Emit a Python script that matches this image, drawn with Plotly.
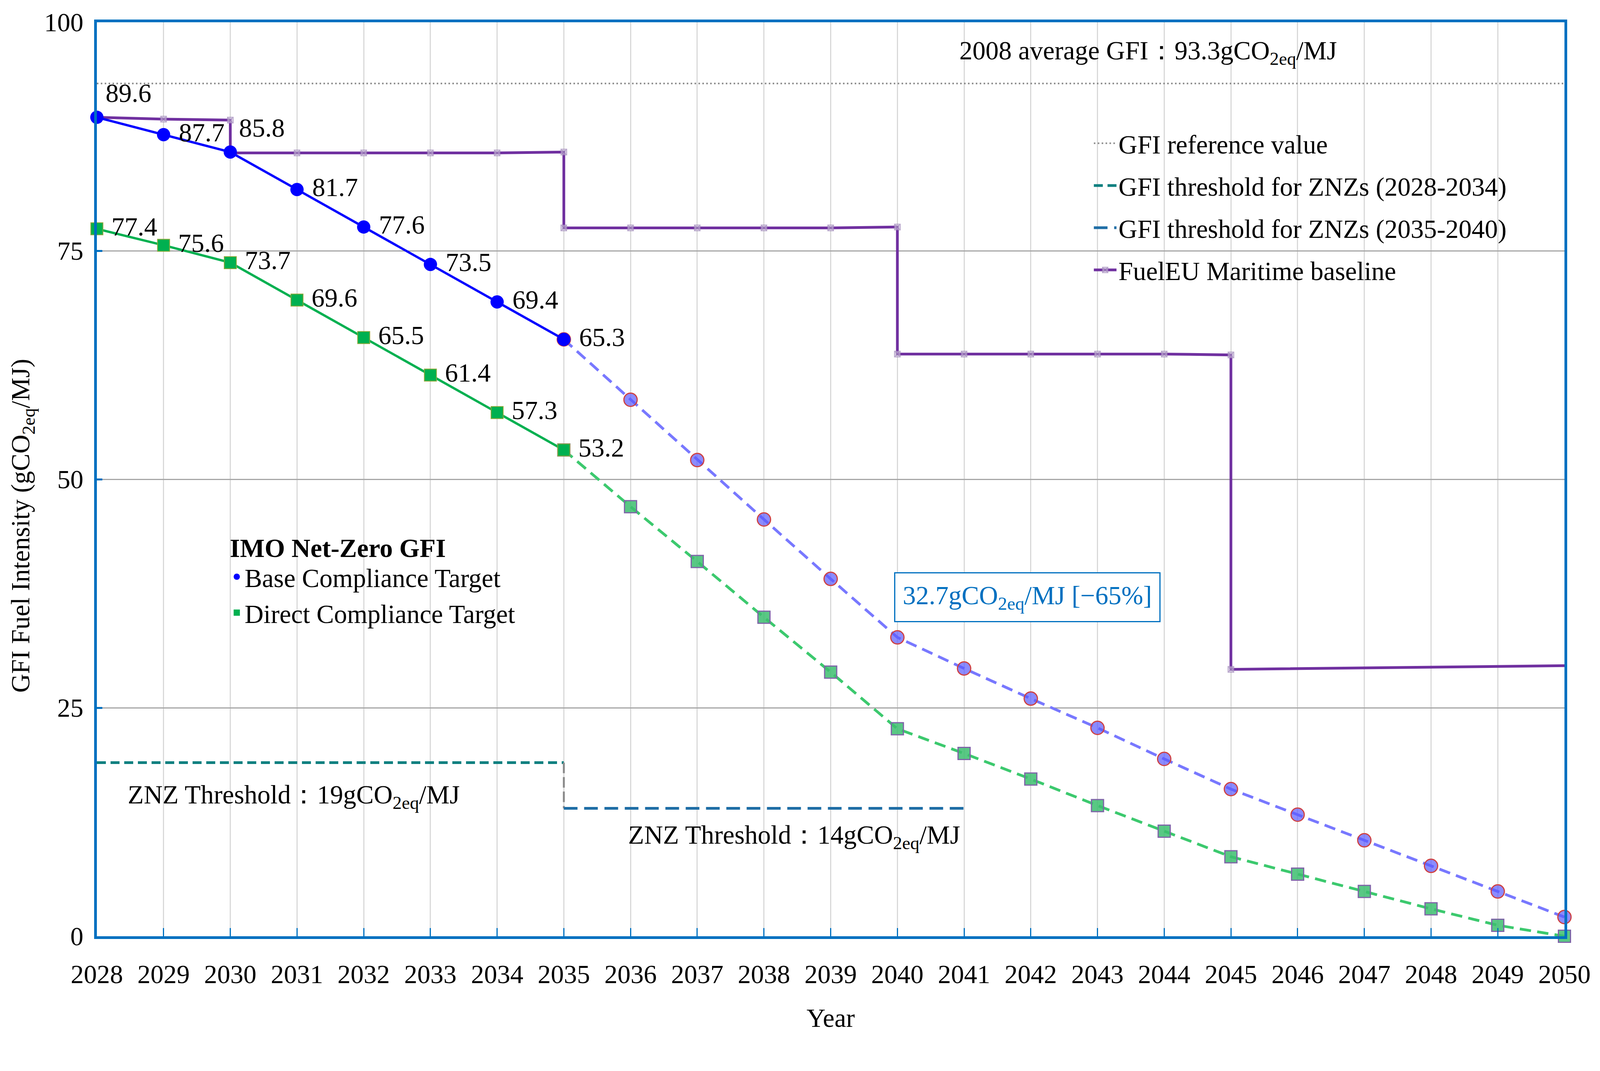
import plotly.graph_objects as go

# ---- data ----
years = list(range(2028, 2051))

base_target = [89.6, 87.7, 85.8, 81.7, 77.6, 73.5, 69.4, 65.3,
               58.7, 52.1, 45.6, 39.1, 32.7, 29.3, 26.0, 22.8, 19.4,
               16.1, 13.3, 10.5, 7.7, 4.9, 2.1]
direct_target = [77.4, 75.6, 73.7, 69.6, 65.5, 61.4, 57.3, 53.2,
                 47.0, 41.0, 34.9, 28.9, 22.7, 20.0, 17.2, 14.3, 11.5,
                 8.7, 6.8, 4.9, 3.0, 1.2, 0.0]

fueleu_years = [2028, 2029, 2030, 2030, 2031, 2032, 2033, 2034, 2035, 2035,
                2036, 2037, 2038, 2039, 2040, 2040, 2041, 2042, 2043, 2044,
                2045, 2045, 2050]
fueleu_values = [89.6, 89.4, 89.3, 85.7, 85.7, 85.7, 85.7, 85.7, 85.8, 77.5,
                 77.5, 77.5, 77.5, 77.5, 77.6, 63.7, 63.7, 63.7, 63.7, 63.7,
                 63.6, 29.2, 29.6]

ref_gfi_2008 = 93.3
znz_years_1 = [2028, 2035]
znz_value_1 = 19
znz_years_2 = [2035, 2041]
znz_value_2 = 14

last_fixed_year = 2035  # solid up to here, dashed projection after

FONT = "Liberation Serif"
FS = 67
BLUE_AX = "#0070C0"

split = years.index(last_fixed_year)

fig = go.Figure()

# reference 2008 level
fig.add_trace(go.Scatter(
    x=[years[0], years[-1]], y=[ref_gfi_2008] * 2, mode="lines",
    line=dict(color="#8c8c8c", width=4, dash="4px,6px"),
    name="GFI reference value", legendgroup="a", cliponaxis=False,
))

# ZNZ thresholds
fig.add_trace(go.Scatter(
    x=znz_years_1, y=[znz_value_1] * 2, mode="lines",
    line=dict(color="#0E8080", width=7, dash="23px,12px"),
    name="GFI threshold for ZNZs (2028-2034)", legendgroup="b",
))
fig.add_trace(go.Scatter(
    x=[znz_years_1[-1], znz_years_2[0]], y=[znz_value_1, znz_value_2],
    mode="lines", line=dict(color="#8c8c8c", width=5, dash="27px,10px"),
    showlegend=False, hoverinfo="skip",
))
fig.add_trace(go.Scatter(
    x=znz_years_2, y=[znz_value_2] * 2, mode="lines",
    line=dict(color="#1F6EA6", width=7, dash="35px,17px"),
    name="GFI threshold for ZNZs (2035-2040)", legendgroup="c",
))

# FuelEU Maritime baseline (step line)
fe_sizes = [15] * (len(fueleu_years) - 1) + [0]
fig.add_trace(go.Scatter(
    x=fueleu_years, y=fueleu_values, mode="lines+markers",
    line=dict(color="#7030A0", width=7),
    marker=dict(symbol="square-x", size=fe_sizes, color="#C9BBD9",
                line=dict(color="#9E86B8", width=2)),
    name="FuelEU Maritime baseline", legendgroup="d", cliponaxis=False,
))

# projected (dashed) parts
fig.add_trace(go.Scatter(
    x=years[split:], y=direct_target[split:], mode="lines+markers",
    line=dict(color="#3CC96E", width=7, dash="29px,16px"),
    marker=dict(symbol="square", size=31, color="rgba(60,190,110,0.85)",
                line=dict(color="#7F63A8", width=3)),
    showlegend=False, cliponaxis=False,
))
fig.add_trace(go.Scatter(
    x=years[split:], y=base_target[split:], mode="lines+markers",
    line=dict(color="#7878FF", width=7, dash="29px,16px"),
    marker=dict(symbol="circle", size=34, color="rgba(90,90,255,0.7)",
                line=dict(color="#D04040", width=3)),
    showlegend=False, cliponaxis=False,
))

# fixed (solid) parts with data labels
label_pos_base = ["top right", "middle right", "top right"] + ["middle right"] * (split - 2)
base_labels = [("" if p.startswith("top") else " ") + f"{v:.1f}"
               for p, v in zip(label_pos_base, base_target[:split + 1])]

fig.add_trace(go.Scatter(
    x=years[:split + 1], y=direct_target[:split + 1], mode="lines+markers+text",
    line=dict(color="#00B050", width=6),
    marker=dict(symbol="square", size=31, color="#00B050",
                line=dict(color="#8FA838", width=2)),
    text=[f" {v:.1f}" for v in direct_target[:split + 1]],
    textposition="middle right",
    textfont=dict(family=FONT, size=FS, color="black"),
    showlegend=False, cliponaxis=False,
))
fig.add_trace(go.Scatter(
    x=years[:split + 1], y=base_target[:split + 1], mode="lines+markers+text",
    line=dict(color="#0000FF", width=6),
    marker=dict(symbol="circle", size=34, color="#0000FF"),
    text=base_labels,
    textposition=label_pos_base,
    textfont=dict(family=FONT, size=FS, color="black"),
    showlegend=False, cliponaxis=False,
))

# IMO legend entries (markers only)
fig.add_trace(go.Scatter(
    x=[None], y=[None], mode="markers", legend="legend2",
    marker=dict(symbol="circle", size=16, color="#0000FF"),
    name="Base Compliance Target", legendgroup="e",
))
fig.add_trace(go.Scatter(
    x=[None], y=[None], mode="markers", legend="legend2",
    marker=dict(symbol="square", size=16, color="#00B050"),
    name="Direct Compliance Target", legendgroup="f",
))

# text annotations
fig.add_annotation(
    x=2043.76, y=96.7, xref="x", yref="y", showarrow=False,
    text="2008 average GFI：93.3gCO<sub>2eq</sub>/MJ",
    font=dict(family=FONT, size=FS, color="black"),
)
fig.add_annotation(
    x=2030.95, y=15.3, xref="x", yref="y", showarrow=False,
    text="ZNZ Threshold：19gCO<sub>2eq</sub>/MJ",
    font=dict(family=FONT, size=FS, color="black"),
)
fig.add_annotation(
    x=2038.45, y=10.9, xref="x", yref="y", showarrow=False,
    text="ZNZ Threshold：14gCO<sub>2eq</sub>/MJ",
    font=dict(family=FONT, size=FS, color="black"),
)
fig.add_annotation(
    x=2039.95, y=37.1, xref="x", yref="y", xanchor="left", showarrow=False,
    text="32.7gCO<sub>2eq</sub>/MJ [−65%]",
    font=dict(family=FONT, size=FS, color=BLUE_AX),
    bordercolor=BLUE_AX, borderwidth=3, borderpad=19, bgcolor="white",
)
# y axis title sits a little below the middle in the original
fig.add_annotation(
    x=-0.0625, y=0.449, xref="paper", yref="paper", showarrow=False,
    xanchor="left", yanchor="middle", textangle=-90,
    text="GFI Fuel Intensity (gCO<sub>2eq</sub>/MJ)",
    font=dict(family=FONT, size=FS, color="black"),
)

# sized so the page (with the body's 8px margin) fits the viewport without scrolling
fig.update_layout(
    width=4076, height=2636,
    margin=dict(l=240, r=66, t=38, b=241),
    plot_bgcolor="white", paper_bgcolor="white",
    font=dict(family=FONT, size=FS, color="black"),
    showlegend=True,
    legend=dict(
        x=0.678, y=0.889, xanchor="left", yanchor="top",
        bgcolor="rgba(0,0,0,0)", font=dict(family=FONT, size=FS),
        tracegroupgap=18, itemwidth=58,
    ),
    legend2=dict(
        x=0.09, y=0.452, xanchor="left", yanchor="top",
        bgcolor="rgba(0,0,0,0)", font=dict(family=FONT, size=FS),
        title=dict(text="<b>IMO Net-Zero GFI</b>", font=dict(family=FONT, size=FS)),
        tracegroupgap=2, itemwidth=30,
    ),
    xaxis=dict(
        range=[years[0], years[-1]], dtick=1, tick0=years[0],
        showgrid=True, gridcolor="#D9D9D9", gridwidth=3,
        showline=True, linecolor=BLUE_AX, linewidth=7, mirror=True,
        ticks="inside", ticklen=21, tickwidth=3, tickcolor=BLUE_AX,
        ticklabelstandoff=33, ticklabeloverflow="allow", zeroline=False,
        tickfont=dict(family=FONT, size=FS),
        title=dict(text="Year", standoff=54, font=dict(family=FONT, size=FS)),
    ),
    yaxis=dict(
        range=[0, 100], tickvals=[0, 25, 50, 75, 100],
        showgrid=True, gridcolor="#A6A6A6", gridwidth=3,
        showline=True, linecolor=BLUE_AX, linewidth=7, mirror=True,
        ticks="inside", ticklen=14, tickwidth=5, tickcolor=BLUE_AX,
        zeroline=False, ticklabelstandoff=14,
        tickfont=dict(family=FONT, size=FS),
    ),
)

fig.write_html("out.html")
